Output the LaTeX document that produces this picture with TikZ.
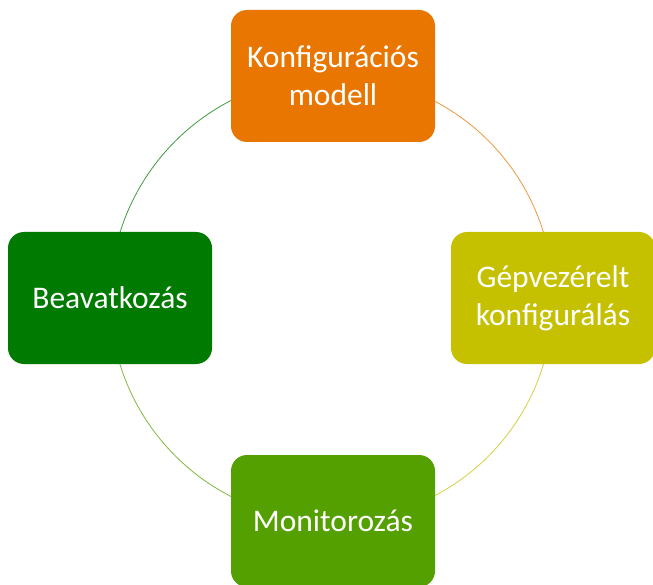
\documentclass[tikz,border=0pt]{standalone}
\usepackage{fontspec}
\setmainfont{Carlito}
\usepackage{tikz}
\pgfdeclarelayer{background}
\pgfsetlayers{background,main}
\definecolor{orangebox}{RGB}{232,118,0}
\definecolor{yellowbox}{RGB}{197,192,0}
\definecolor{greenbox}{RGB}{84,160,0}
\definecolor{darkbox}{RGB}{0,122,0}

\begin{document}
\begin{tikzpicture}[x=1pt,y=-1pt,
							boxnode/.style={rectangle, rounded corners=16pt, minimum width=204pt, minimum height=132pt, text=white, align=center, font=\fontsize{31.5}{38}\selectfont, draw=none},
							arcline/.style={line width=0.8pt, opacity=0.75},
							]
							\useasboundingbox (0,0) rectangle (653,585);
							%Nodes
							\node[boxnode, fill=orangebox]      (konf) 	at 	(333,76)           {Konfigurációs\\modell};
							\node[boxnode, fill=yellowbox]      (gep) 	at 	(553,298)          {Gépvezérelt\\konfigurálás};
							\node[boxnode, fill=greenbox]       (mon) 	at 	(333,521)          {Monitorozás};
							\node[boxnode, fill=darkbox]        (beav) 	at 	(110,298)          {Beavatkozás};
							
							\begin{pgfonlayer}{background}
							\draw[arcline, orangebox] (konf.center) to[bend left=45] (gep.center);
							\draw[arcline, yellowbox] (gep.center) to[bend left=45] (mon.center);
							\draw[arcline, greenbox] (mon.center) to[bend left=45] (beav.center);
							\draw[arcline, darkbox] (beav.center) to[bend left=45] (konf.center);
							\end{pgfonlayer}
						\end{tikzpicture}
\end{document}
